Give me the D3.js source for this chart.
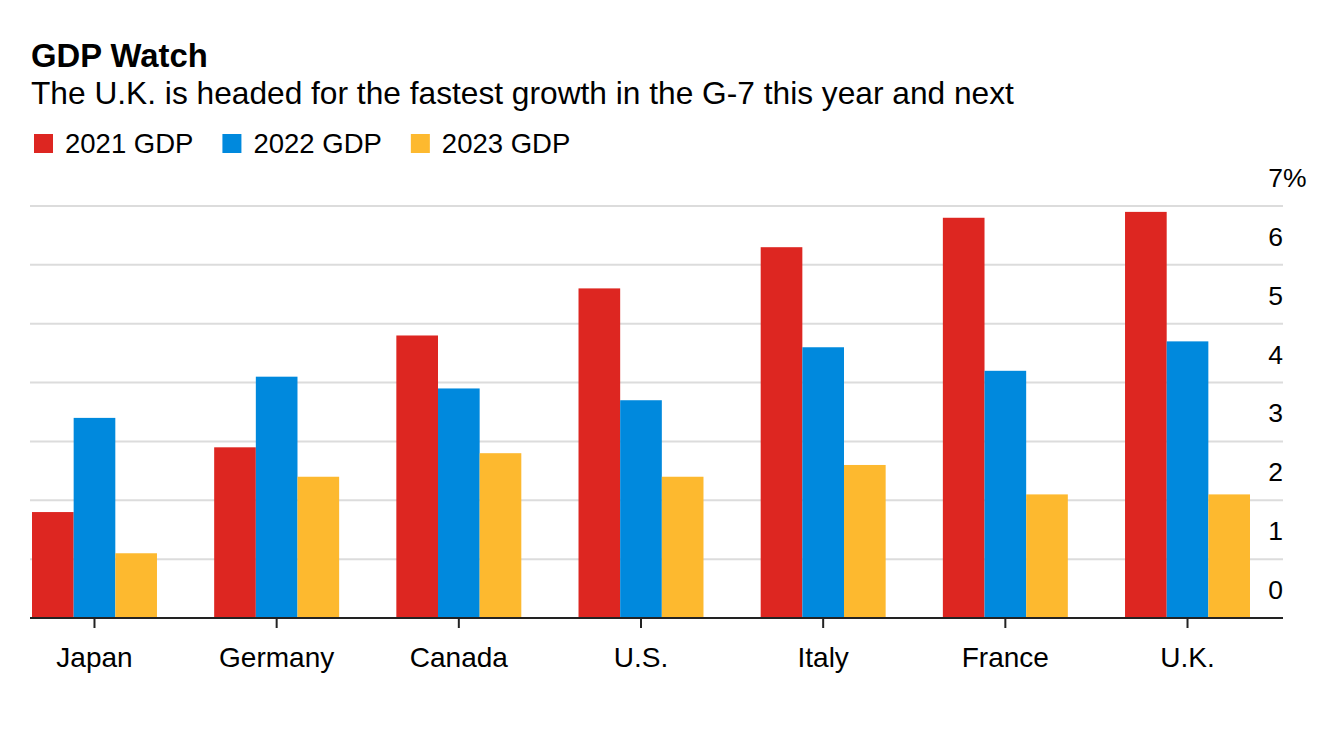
<!DOCTYPE html>
<html>
<head>
<meta charset="utf-8">
<script src="https://cdn.jsdelivr.net/npm/d3@7"></script>
<style>
  html, body { margin: 0; padding: 0; background: #fff; }
  svg { display: block; font-family: "Liberation Sans", Arial, Helvetica, sans-serif; }
</style>
</head>
<body>
<svg id="chart" width="1341" height="737"></svg>
<script>
const categories = ["Japan", "Germany", "Canada", "U.S.", "Italy", "France", "U.K."];
const seriesNames = ["2021 GDP", "2022 GDP", "2023 GDP"];
const gdp2021 = [1.8, 2.9, 4.8, 5.6, 6.3, 6.8, 6.9];
const gdp2022 = [3.4, 4.1, 3.9, 3.7, 4.6, 4.2, 4.7];
const gdp2023 = [1.1, 2.4, 2.8, 2.4, 2.6, 2.1, 2.1];
const yTicks = [0, 1, 2, 3, 4, 5, 6, 7];
const colors = ["#dd2621", "#0089dd", "#fdb92f"];

const seriesValues = [gdp2021, gdp2022, gdp2023];

const svg = d3.select("#chart");

// Title & subtitle
svg.append("text").attr("x", 31).attr("y", 67)
  .attr("font-size", 32.8).attr("font-weight", "bold").attr("fill", "#000")
  .text("GDP Watch");
svg.append("text").attr("x", 31).attr("y", 104)
  .attr("font-size", 31.7).attr("fill", "#000")
  .text("The U.K. is headed for the fastest growth in the G-7 this year and next");

// Legend
const legend = svg.append("g");
let lx = 34;
seriesNames.forEach((name, i) => {
  const g = legend.append("g").attr("transform", `translate(${lx},0)`);
  g.append("rect").attr("x", 0).attr("y", 134).attr("width", 19).attr("height", 19).attr("fill", colors[i]);
  const t = g.append("text").attr("x", 31).attr("y", 153).attr("font-size", 27.5).attr("fill", "#000").text(name);
  const w = t.node().getComputedTextLength();
  lx += 31 + w + 29;
});

// Scales
const x0 = d3.scaleBand().domain(categories).range([32, 1250]).paddingInner(0.314).paddingOuter(0);
const x1 = d3.scaleBand().domain(seriesNames).range([0, x0.bandwidth()]).padding(0);
const y = d3.scaleLinear().domain([0, 7]).range([618, 206]);

const gridLeft = 30, gridRight = 1283;

// Gridlines
svg.append("g").selectAll("line").data(yTicks.filter(d => d > 0)).join("line")
  .attr("x1", gridLeft).attr("x2", gridRight)
  .attr("y1", d => y(d)).attr("y2", d => y(d))
  .attr("stroke", "#dcdcdc").attr("stroke-width", 2);

// Y tick labels (right side)
const yl = svg.append("g");
yTicks.forEach(d => {
  yl.append("text").attr("x", gridRight).attr("y", y(d) - 19)
    .attr("text-anchor", "end").attr("font-size", 26.5).attr("fill", "#000").text(d);
  if (d === 7) {
    yl.append("text").attr("x", gridRight).attr("y", y(d) - 19)
      .attr("text-anchor", "start").attr("font-size", 26.5).attr("fill", "#000").text("%");
  }
});

// Bars
const rows = categories.map((c, ci) => ({ cat: c, vals: seriesNames.map((s, si) => ({ s, si, v: seriesValues[si][ci] })) }));
const groups = svg.append("g").selectAll("g").data(rows).join("g")
  .attr("transform", d => `translate(${x0(d.cat)},0)`);
groups.selectAll("rect").data(d => d.vals).join("rect")
  .attr("x", d => x1(d.s)).attr("width", x1.bandwidth())
  .attr("y", d => y(d.v)).attr("height", d => y(0) - y(d.v))
  .attr("fill", d => colors[d.si]);

// X axis
const xAxis = d3.axisBottom(x0).tickSize(10).tickPadding(19);
const ax = svg.append("g").attr("transform", `translate(0,${y(0)})`).call(xAxis);
ax.select(".domain").remove();
ax.selectAll(".tick line").attr("stroke", "#222").attr("stroke-width", 2);
ax.selectAll(".tick text").attr("font-size", 28).attr("fill", "#000")
  .attr("font-family", "Liberation Sans, Arial, sans-serif");
svg.append("line").attr("x1", gridLeft).attr("x2", gridRight)
  .attr("y1", y(0)).attr("y2", y(0)).attr("stroke", "#222").attr("stroke-width", 2);
</script>
</body>
</html>
